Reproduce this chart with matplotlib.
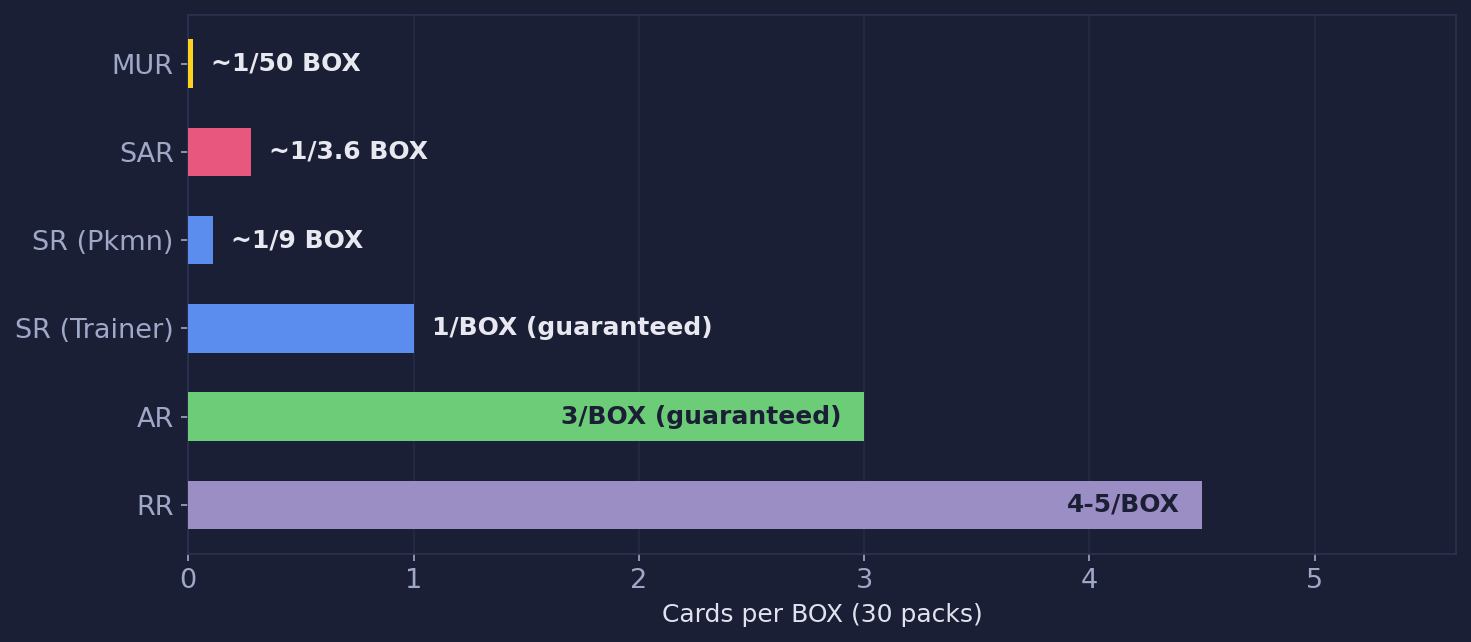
import matplotlib
matplotlib.use('Agg')
import matplotlib.pyplot as plt

categories = ['RR', 'AR', 'SR (Trainer)', 'SR (Pkmn)', 'SAR', 'MUR']
values = [4.5, 3, 1, 1 / 9, 1 / 3.6, 1 / 50]
labels = ['4-5/BOX', '3/BOX (guaranteed)', '1/BOX (guaranteed)', '~1/9 BOX', '~1/3.6 BOX', '~1/50 BOX']
colors = ['#9b8ec4', '#6ccc78', '#5b8def', '#5b8def', '#e8577e', '#ffd21f']

BG = '#1b1f36'

fig, ax = plt.subplots(figsize=(9.807, 4.28), dpi=150)
fig.patch.set_facecolor(BG)
ax.set_facecolor(BG)

ax.barh(categories, values, color=colors, height=0.55, zorder=3)
ax.set_xlim(0, max(values) * 1.25)

for i, (v, lab) in enumerate(zip(values, labels)):
    if v > 2:
        ax.text(v - 0.1, i, lab, ha='right', va='center', fontsize=12,
                fontweight='bold', color='#1b1f36', zorder=4)
    else:
        ax.text(v + 0.08, i, lab, ha='left', va='center', fontsize=12,
                fontweight='bold', color='#e8e8f0', zorder=4)

ax.set_xlabel('Cards per BOX (30 packs)', color='#e0e2ee', fontsize=12)
ax.tick_params(colors='#a0a8c8', labelsize=13)
ax.grid(axis='x', color='#242943', linewidth=0.9, zorder=0)
for s in ax.spines.values():
    s.set_color('#2c3250')

plt.subplots_adjust(left=0.128, right=0.9895, top=0.977, bottom=0.1375)
plt.savefig('out.png', facecolor=BG)
